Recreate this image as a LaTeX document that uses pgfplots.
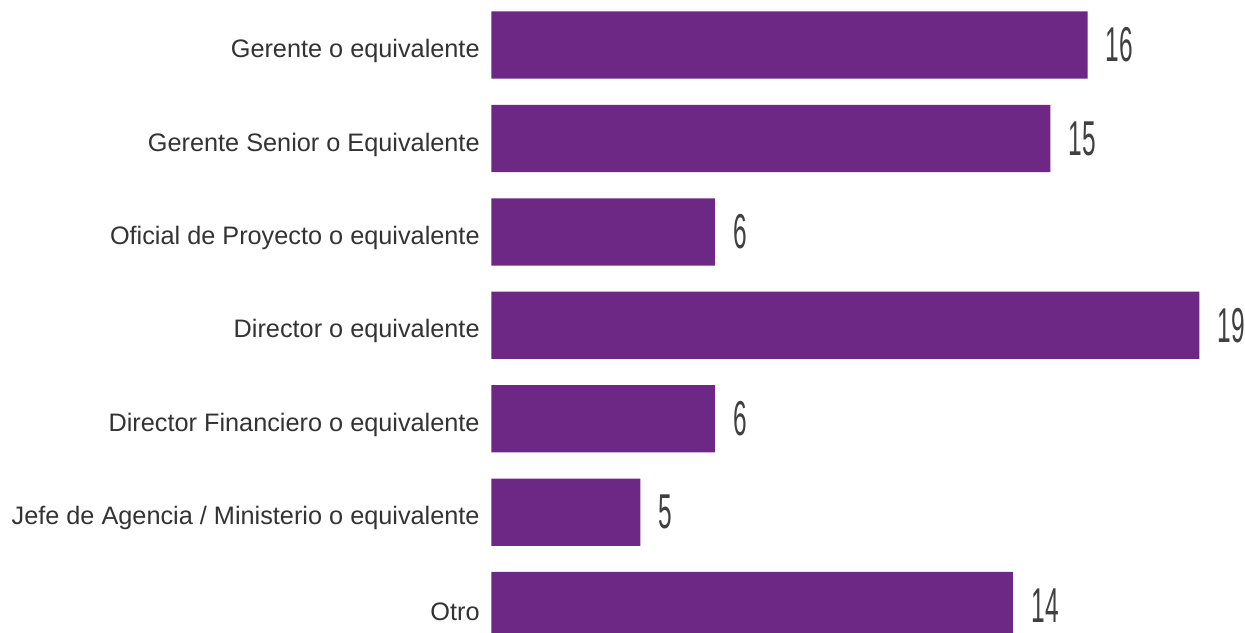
\documentclass[border=0pt]{standalone}
\usepackage{pgfplots}
\pgfplotsset{compat=1.18}
\usepackage{fontspec}
\setmainfont{Liberation Sans}
\definecolor{barpurple}{RGB}{108,40,132}

\begin{document}
\begin{tikzpicture}
\begin{axis}[
    xbar,
    width=377pt, height=315pt,
    scale only axis,
    xmin=0, xmax=20.3,
    ymin=-0.483, ymax=6.284,
    y dir=reverse,
    axis x line=none,
    axis y line*=left,
    y axis line style={draw=none},
    ytick style={draw=none},
    ytick={0,...,6},
    yticklabels={Gerente o equivalente,Gerente Senior o Equivalente,Oficial de Proyecto o equivalente,Director o equivalente,Director Financiero o equivalente,Jefe de Agencia / Ministerio o equivalente,Otro},
    yticklabel style={font=\fontsize{12.6}{14}\selectfont\color{black!80}, anchor=east, inner sep=0pt, xshift=-5.6pt, yshift=-3pt},
    major tick length=0pt,
    bar width=0.72,
    point meta=explicit symbolic,
    nodes near coords={\scalebox{0.5}[1]{\fontsize{24.4}{26}\selectfont\color{black!75}\pgfplotspointmeta}},
    nodes near coords style={anchor=west, inner sep=0pt, xshift=9pt},
  ]
\addplot[fill=barpurple, draw=none] coordinates {
  (16,0)[16]
  (15,1)[15]
  (6,2)[6]
  (19,3)[19]
  (6,4)[6]
  (4,5)[5]
  (14,6)[14]
};
\end{axis}
\path (current bounding box.west) ++(-5.8pt,0);
\end{tikzpicture}
\end{document}
